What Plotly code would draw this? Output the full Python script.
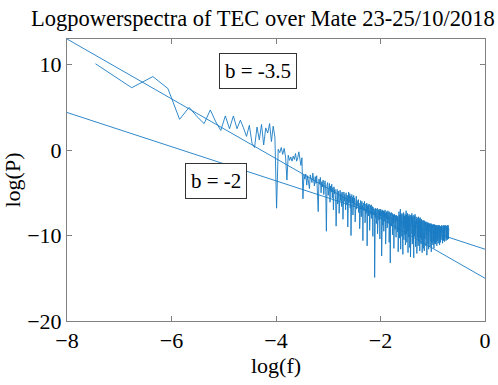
import numpy as np
import plotly.graph_objects as go

# Number of samples defining the frequency grid f_k = k / N_SAMPLES
N_SAMPLES = 1728

# log(P) values, one per frequency bin k = 1, 2, 3, ...
logP = [
    10.1, 7.3, 8.6, 7.2, 3.6, 5.0, 3.9, 3.1, 4.7, 3.3,
    2.3, 4.0, 2.5, 4.0, 2.5, 3.5, 2.6, 1.6, 2.9, 0.8,
    0.3, 2.7, 1.2, 3.0, 0.6, 2.6, 2.0, 3.1, 1.0, 2.8,
    1.5, -6.8, 0.1, -0.3, 0.3, -0.5, 0.2, -0.8, -3.5, -0.6,
    -1.2, -0.8, -1.3, -0.7, -1.1, -0.4, -1.3, -0.9, -0.2, -1.0,
    -1.8, -0.9, -5.7, -2.9, -3.4, -2.8, -4.1, -3.0, -3.6, -4.5,
    -2.9, -3.3, -3.8, -2.7, -3.5, -4.2, -3.1, -3.9, -3.0, -4.6,
    -7.2, -3.4, -4.0, -3.2, -5.0, -3.7, -4.3, -3.5, -5.2, -4.0,
    -3.6, -4.8, -9.5, -4.1, -3.8, -5.3, -4.5, -3.9, -6.1, -4.2,
    -4.9, -4.0, -5.6, -4.4, -7.0, -4.3, -5.1, -4.6, -5.8, -8.9,
    # k = 101 - 150
    -5.2, -4.6, -6.3, -5.0, -4.8, -7.4, -5.5, -4.7, -5.9, -5.1,
    -6.6, -4.9, -5.3, -8.1, -5.6, -4.9, -6.0, -5.2, -5.7, -7.0,
    -5.0, -5.8, -6.4, -5.3, -9.0, -5.5, -4.9, -6.2, -5.6, -5.1,
    -6.8, -5.4, -10.0, -5.7, -5.2, -6.1, -5.5, -7.6, -5.8, -5.3,
    -6.5, -5.6, -6.0, -8.4, -5.7, -6.3, -5.4, -6.9, -5.9, -6.2,
    # k = 151 - 210
    -6.0, -6.6, -5.8, -7.3, -6.2, -6.5, -9.2, -6.1, -6.8, -5.9,
    -6.4, -7.8, -6.3, -6.0, -6.9, -6.5, -10.6, -6.2, -6.7, -6.4,
    -7.1, -6.0, -6.8, -8.5, -6.5, -6.9, -6.3, -7.4, -6.6, -6.2,
    -11.2, -6.8, -6.5, -7.0, -6.4, -7.7, -6.9, -6.3, -6.7, -9.4,
    -6.6, -7.2, -6.5, -6.9, -7.5, -6.4, -8.0, -6.8, -7.1, -6.6,
    -7.3, -10.1, -6.7, -7.0, -6.8, -7.6, -6.9, -7.2, -14.9, -7.0,
    # k = 211 - 330
    -7.2, -6.8, -7.9, -7.1, -6.9, -8.6, -7.3, -7.0, -7.6, -6.8, -9.8, -7.4, -7.1, -7.8, -7.0, -7.3, -8.2, -6.9, -7.5, -7.2,
    -10.4, -7.1, -7.7, -7.3, -6.9, -8.0, -7.4, -7.1, -12.4, -7.6, -7.2, -7.9, -7.0, -7.5, -8.8, -7.3, -7.6, -7.1, -9.5, -7.4,
    -7.8, -7.2, -7.5, -8.3, -7.0, -7.7, -7.4, -11.0, -7.3, -7.9, -7.5, -7.2, -8.1, -7.6, -7.3, -9.1, -7.5, -7.8, -7.1, -7.7,
    -8.5, -7.4, -7.6, -7.9, -7.2, -10.8, -7.5, -7.8, -7.3, -8.0, -7.6, -13.2, -7.4, -7.9, -7.7, -8.4, -7.5, -7.3, -8.9, -7.8,
    -7.6, -8.2, -7.4, -9.9, -7.7, -8.0, -7.5, -7.9, -8.6, -7.6, -7.8, -11.5, -7.7, -8.1, -7.5, -8.3, -7.9, -7.6, -9.3, -7.8,
    -8.0, -7.7, -8.4, -7.9, -10.2, -7.6, -8.1, -7.8, -8.7, -7.9, -8.2, -7.7, -9.6, -8.0, -7.8, -8.3, -7.9, -11.9, -8.1, -7.8,
    # k = 331 - 864
    -7.9, -8.6, -7.2, -9.4, -8.1, -7.6, -10.3, -8.4, -7.8, -9.0, -8.2, -6.9, -8.8, -11.6, -8.0, -7.5, -9.2, -8.5, -7.7, -8.9,
    -8.3, -10.1, -7.4, -8.7, -8.0, -9.6, -7.8, -8.4, -12.2, -8.1, -7.6, -9.1, -8.6, -7.3, -8.9, -10.5, -8.2, -7.9, -9.3, -8.5,
    -7.7, -8.8, -9.9, -8.0, -7.5, -8.6, -11.1, -8.3, -7.8, -9.2, -8.4, -7.1, -8.9, -9.7, -8.2, -7.6, -10.8, -8.5, -8.0, -9.0,
    -8.3, -7.4, -9.5, -8.7, -8.1, -12.0, -8.4, -7.7, -9.1, -8.6, -7.9, -10.2, -8.3, -7.5, -8.8, -9.4, -8.0, -7.8, -11.4, -8.5,
    -8.2, -9.0, -7.6, -8.7, -12.5, -8.3, -7.9, -9.6, -8.4, -8.0, -10.0, -7.7, -8.6, -9.2, -8.1, -7.4, -9.8, -8.5, -8.2, -11.0,
    -8.4, -7.8, -9.3, -8.8, -8.0, -10.6, -7.6, -8.9, -9.1, -8.3, -7.9, -12.6, -8.5, -8.1, -9.4, -8.7, -7.7, -10.1, -8.4, -8.9,
    -9.0, -8.2, -7.5, -9.7, -8.6, -8.3, -11.3, -8.8, -8.0, -9.2, -8.5, -7.8, -10.4, -8.7, -8.4, -9.5, -8.1, -8.9, -12.1, -8.6,
    -8.3, -9.3, -7.9, -8.8, -10.2, -8.5, -8.1, -9.6, -8.7, -8.4, -11.2, -8.2, -8.9, -9.1, -7.8, -8.6, -10.7, -8.8, -8.3, -9.4,
    -8.5, -8.0, -9.9, -8.7, -8.4, -11.8, -8.9, -8.2, -9.3, -8.6, -7.9, -10.3, -8.8, -8.5, -9.6, -8.3, -9.0, -11.0, -8.7, -8.4,
    -9.2, -8.6, -8.1, -10.5, -8.9, -8.5, -9.4, -8.2, -12.0, -8.8, -8.6, -9.7, -8.4, -9.0, -10.1, -8.7, -8.3, -9.5, -8.9, -11.5,
    -8.6, -9.1, -8.4, -9.8, -8.8, -8.2, -10.9, -8.7, -9.3, -8.5, -11.8, -8.9, -8.6, -9.6, -8.3, -9.0, -10.4, -8.8, -8.5, -9.2,
    -8.7, -10.0, -8.9, -8.4, -9.5, -8.6, -11.2, -9.0, -8.7, -9.3, -8.5, -10.6, -8.8, -9.1, -8.6, -9.9, -8.4, -12.3, -8.9, -9.2,
    -8.7, -9.6, -8.5, -10.3, -9.0, -8.8, -9.4, -8.6, -11.0, -8.9, -9.2, -8.7, -10.1, -8.5, -9.5, -9.0, -8.8, -11.6, -8.6, -9.3,
    -8.9, -9.7, -8.7, -10.5, -9.1, -8.6, -9.4, -8.8, -10.9, -9.0, -8.7, -9.6, -8.9, -11.3, -8.8, -9.2, -8.6, -10.0, -9.1, -8.9,
    -9.5, -8.7, -10.7, -9.0, -8.8, -9.3, -8.6, -11.9, -9.1, -8.9, -9.8, -8.7, -10.2, -9.0, -8.8, -9.4, -9.2, -10.8, -8.9, -9.6,
    -8.8, -9.1, -10.4, -8.9, -9.3, -8.7, -11.1, -9.0, -9.5, -8.8, -10.0, -9.2, -8.9, -9.7, -8.7, -10.6, -9.1, -8.9, -9.4, -11.5,
    -9.0, -8.8, -9.6, -9.2, -10.3, -8.9, -9.1, -9.8, -8.7, -10.9, -9.3, -9.0, -9.5, -8.9, -10.1, -9.2, -8.8, -9.7, -11.0, -9.1,
    -8.9, -9.4, -9.1, -10.2, -8.8, -9.6, -9.3, -10.7, -9.0, -8.9, -9.5, -9.2, -10.4, -8.8, -9.7, -9.1, -11.2, -9.0, -9.3, -8.9,
    -9.8, -9.2, -10.0, -8.9, -9.4, -9.1, -10.6, -9.3, -8.8, -9.6, -9.2, -10.3, -9.0, -9.5, -8.9, -10.9, -9.3, -9.1, -9.7, -8.8,
    -10.1, -9.2, -9.4, -9.0, -10.5, -9.3, -8.9, -9.8, -9.1, -10.2, -9.4, -8.8, -9.6, -9.2, -11.1, -9.0, -9.5, -9.3, -10.0, -8.9,
    -9.7, -9.1, -10.4, -9.3, -9.0, -9.6, -9.2, -10.8, -8.9, -9.5, -9.3, -10.1, -9.1, -9.4, -8.9, -10.6, -9.2, -9.7, -9.0, -10.3,
    -9.1, -9.4, -8.8, -10.0, -9.3, -9.6, -9.1, -10.5, -9.2, -8.9, -9.8, -9.3, -10.2, -9.0, -9.5, -9.2, -10.9, -9.1, -9.4, -8.9,
    -9.9, -9.2, -10.3, -9.0, -9.6, -9.3, -8.8, -10.1, -9.4, -9.1, -10.6, -9.2, -9.5, -8.9, -10.0, -9.3, -9.7, -9.0, -10.4, -9.2,
    -9.4, -8.8, -10.2, -9.3, -9.6, -9.1, -10.7, -9.0, -9.5, -9.2, -9.8, -8.9, -10.1, -9.4, -9.1, -10.5, -9.3, -8.9, -9.7, -9.2,
    -10.0, -9.1, -9.5, -8.8, -10.3, -9.4, -9.2, -9.9, -9.0, -10.6, -9.3, -9.1, -9.6, -8.9, -10.1, -9.4, -9.2, -10.4, -9.0, -9.5,
    -9.2, -10.2, -8.9, -9.6, -9.3, -10.0, -9.1, -9.4, -8.8, -10.5, -9.2, -9.7, -9.0, -10.1, -9.3, -9.5, -8.9, -10.3, -9.2, -9.6,
    -9.1, -10.0, -9.3, -8.8, -9.7, -9.2, -10.4, -9.0, -9.5, -9.3, -10.1, -8.9, -9.6, -9.2,
]

# Fitted power-law lines: log(P) = slope * log(f) + intercept
fit_labels = ["b = -3.5", "b = -2"]
fit_slopes = [-3.5, -2.0]
fit_intercepts = [-15.0, -11.6]
fit_label_pos = [(-4.34, 9.3), (-5.15, -3.6)]

# Axis settings
x_range = [-8, 0]
y_range = [-20, 13]
x_ticks = [-8, -6, -4, -2, 0]
y_ticks = [-20, -10, 0, 10]

LINE = "#1a7cc4"
SERIF = "Liberation Serif, Times New Roman, serif"

bins = np.arange(1, len(logP) + 1)
log_f = np.log(bins / N_SAMPLES)

fig = go.Figure()
fig.add_trace(go.Scatter(x=log_f, y=logP, mode="lines",
                         line=dict(color=LINE, width=0.9), showlegend=False,
                         hoverinfo="skip"))
for s, c in zip(fit_slopes, fit_intercepts):
    xs = np.array(x_range, dtype=float)
    fig.add_trace(go.Scatter(x=xs, y=s * xs + c, mode="lines",
                             line=dict(color=LINE, width=0.9), showlegend=False,
                             hoverinfo="skip"))

for lab, (ax_, ay_) in zip(fit_labels, fit_label_pos):
    fig.add_annotation(x=ax_, y=ay_, text=lab, showarrow=False,
                       font=dict(family=SERIF, size=21, color="black"),
                       bordercolor="#333333", borderwidth=1, borderpad=5,
                       bgcolor="white")

axis_common = dict(showgrid=False, zeroline=False, showline=True,
                   linecolor="#808080", linewidth=1, mirror="ticks",
                   ticks="inside", ticklen=5, tickcolor="#808080",
                   tickfont=dict(family=SERIF, size=22, color="black"))

fig.update_layout(
    width=498, height=385,
    margin=dict(l=67, r=7, t=39, b=64),
    paper_bgcolor="white", plot_bgcolor="white",
    title=dict(text="Logpowerspectra of TEC over Mate 23-25/10/2018",
               font=dict(family=SERIF, size=22.5, color="black"),
               x=0.528, xref="container", xanchor="center",
               y=0.953, yref="container", yanchor="middle"),
    xaxis=dict(range=x_range, tickvals=x_ticks,
               title=dict(text="log(f)", font=dict(family=SERIF, size=22, color="black"),
                          standoff=0),
               **axis_common),
    yaxis=dict(range=y_range, tickvals=y_ticks,
               title=dict(text="log(P)", font=dict(family=SERIF, size=22, color="black"),
                          standoff=4),
               **axis_common),
)

fig.write_html("out.html")
